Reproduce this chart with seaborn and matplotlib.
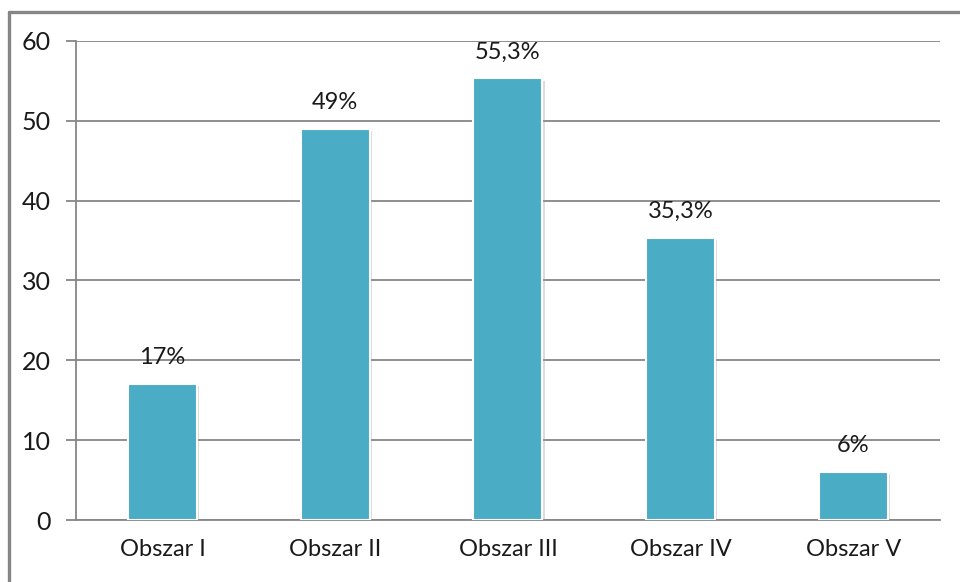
import matplotlib
matplotlib.use("Agg")
import matplotlib.pyplot as plt
import matplotlib.patheffects as pe
from matplotlib.lines import Line2D
import seaborn as sns
import pandas as pd

categories = ["Obszar I", "Obszar II", "Obszar III", "Obszar IV", "Obszar V"]
values = [17, 49, 55.3, 35.3, 6]
value_labels = ["17%", "49%", "55,3%", "35,3%", "6%"]
y_ticks = [0, 10, 20, 30, 40, 50, 60]

sns.set_theme(style="white")
plt.rcParams["font.family"] = ["Lato", "DejaVu Sans"]

df = pd.DataFrame({"obszar": categories, "wartosc": values})

fig = plt.figure(figsize=(9.6, 5.82), dpi=100)
ax = fig.add_axes([0.0792, 0.1065, 0.8998, 0.8231])

grid_c = "#868686"
sns.barplot(data=df, x="obszar", y="wartosc", color="#4BACC6", saturation=1,
            width=0.4, ax=ax, edgecolor="white", linewidth=1.5, zorder=3)

for bar in ax.patches:
    bar.set_path_effects([
        pe.SimplePatchShadow(offset=(1.5, -1.5), shadow_rgbFace="#9a9a9a", alpha=0.35),
        pe.Normal(),
    ])

for bar, lab in zip(ax.patches, value_labels):
    ax.annotate(lab, (bar.get_x() + bar.get_width() / 2, bar.get_height()),
                xytext=(0, 19), textcoords="offset points", ha="center", va="center",
                fontsize=17, color="#1a1a1a", zorder=5)

ax.set_ylim(0, 60)
ax.set_xlim(-0.5, len(categories) - 0.5)
ax.set_yticks(y_ticks)
ax.yaxis.grid(True, color=grid_c, linewidth=1.3, zorder=0)
ax.set_axisbelow(True)
ax.set_xlabel("")
ax.set_ylabel("")

# category boundary ticks on the x axis
ax.set_xticks([i - 0.5 for i in range(len(categories) + 1)], minor=True)
ax.tick_params(axis="x", which="minor", length=7, width=1.3, color=grid_c, direction="out")
ax.tick_params(axis="x", which="major", length=0, pad=14, labelsize=17, labelcolor="#1a1a1a")
ax.tick_params(axis="y", which="major", length=7, width=1.3, color=grid_c, direction="out",
               pad=11, labelsize=18, labelcolor="#1a1a1a", left=True)

for s in ["top", "right"]:
    ax.spines[s].set_visible(False)
for s in ["left", "bottom"]:
    ax.spines[s].set_color(grid_c)
    ax.spines[s].set_linewidth(1.3)

# outer frame (top and left edges)
fig.add_artist(Line2D([0.0089, 1.0], [0.980, 0.980], color="#868686", linewidth=2.4,
                      transform=fig.transFigure))
fig.add_artist(Line2D([0.0089, 0.0089], [0.0, 0.980], color="#868686", linewidth=2.4,
                      transform=fig.transFigure))

fig.savefig("out.png", dpi=100)
